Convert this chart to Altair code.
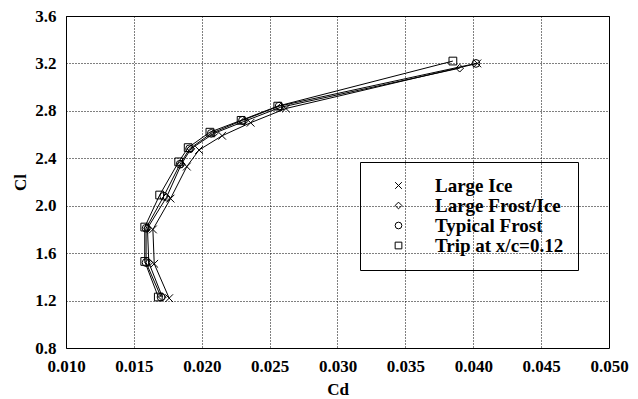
import altair as alt
import pandas as pd

series_names = ["Large Ice", "Large Frost/Ice", "Typical Frost", "Trip at x/c=0.12"]

large_ice_cd = [0.0176, 0.0165, 0.0164, 0.0177, 0.0189, 0.0198, 0.0215, 0.0236, 0.0262, 0.0403]
large_ice_cl = [1.22, 1.51, 1.80, 2.06, 2.33, 2.47, 2.59, 2.70, 2.82, 3.20]

large_frost_cd = [0.0171, 0.0161, 0.0160, 0.0174, 0.0185, 0.0192, 0.0209, 0.0231, 0.0258, 0.0390]
large_frost_cl = [1.23, 1.52, 1.81, 2.07, 2.35, 2.48, 2.61, 2.71, 2.83, 3.16]

typical_frost_cd = [0.0170, 0.0159, 0.0159, 0.0172, 0.0184, 0.0191, 0.0207, 0.0230, 0.0257, 0.0402]
typical_frost_cl = [1.23, 1.52, 1.81, 2.08, 2.35, 2.48, 2.61, 2.72, 2.84, 3.20]

trip_cd = [0.0168, 0.0158, 0.0158, 0.0169, 0.0183, 0.0190, 0.0206, 0.0229, 0.0256, 0.0385]
trip_cl = [1.23, 1.53, 1.82, 2.09, 2.37, 2.49, 2.62, 2.72, 2.84, 3.22]

x_ticks = [0.010, 0.015, 0.020, 0.025, 0.030, 0.035, 0.040, 0.045, 0.050]
y_ticks = [0.8, 1.2, 1.6, 2.0, 2.4, 2.8, 3.2, 3.6]

rows = []
for name, cds, cls in zip(
    series_names,
    [large_ice_cd, large_frost_cd, typical_frost_cd, trip_cd],
    [large_ice_cl, large_frost_cl, typical_frost_cl, trip_cl],
):
    for i, (cd, cl) in enumerate(zip(cds, cls)):
        rows.append({"series": name, "cd": cd, "cl": cl, "order": i})
df = pd.DataFrame(rows)

FONT = "Liberation Serif"
x_path = "M -1 -1 L 1 1 M -1 1 L 1 -1"
shape_scale = alt.Scale(domain=series_names, range=[x_path, "diamond", "circle", "square"])

x_enc = alt.X(
    "cd:Q",
    scale=alt.Scale(domain=[0.010, 0.050], nice=False, zero=False),
    axis=alt.Axis(values=x_ticks, format=".3f", title="Cd", ticks=False,
                  labelFlush=False, labelPadding=10, titlePadding=7),
)
y_enc = alt.Y(
    "cl:Q",
    scale=alt.Scale(domain=[0.8, 3.6], nice=False, zero=False),
    axis=alt.Axis(values=y_ticks, format=".1f", title="Cl", ticks=False,
                  labelFlush=False, labelPadding=10, titlePadding=5),
)

base = alt.Chart(df)
lines = base.mark_line(color="black", strokeWidth=1).encode(
    x=x_enc, y=y_enc, detail="series:N", order="order:Q"
)
points = base.mark_point(filled=False, color="black", size=60, strokeWidth=1, opacity=1).encode(
    x=x_enc,
    y=y_enc,
    shape=alt.Shape(
        "series:N",
        scale=shape_scale,
        legend=alt.Legend(
            title=None,
            orient="none",
            legendX=294,
            legendY=146,
            fillColor="transparent",
            strokeColor="black",
            padding=14,
            labelFont=FONT,
            labelFontWeight="bold",
            labelFontSize=19,
            labelColor="black",
            labelOffset=27,
            symbolOffset=15,
            rowPadding=-4,
            symbolSize=45,
            symbolStrokeColor="black",
            symbolStrokeWidth=1,
            symbolFillColor="transparent",
        ),
    ),
)

chart = (
    alt.layer(lines, points)
    .properties(
        width=543,
        height=332,
        autosize=alt.AutoSizeParams(type="none"),
        padding={"left": 66, "top": 16, "right": 29, "bottom": 51},
        background="white",
    )
    .configure_view(stroke="black", strokeWidth=1)
    .configure_axis(
        grid=True,
        gridColor="black",
        gridDash=[1, 2],
        gridWidth=1,
        gridOpacity=1,
        domain=False,
        labelFont=FONT,
        labelFontWeight="bold",
        labelFontSize=17,
        labelColor="black",
        titleFont=FONT,
        titleFontWeight="bold",
        titleFontSize=17,
        titleColor="black",
    )
)

chart.save("out.html", embed_options={"renderer": "svg", "actions": False})
